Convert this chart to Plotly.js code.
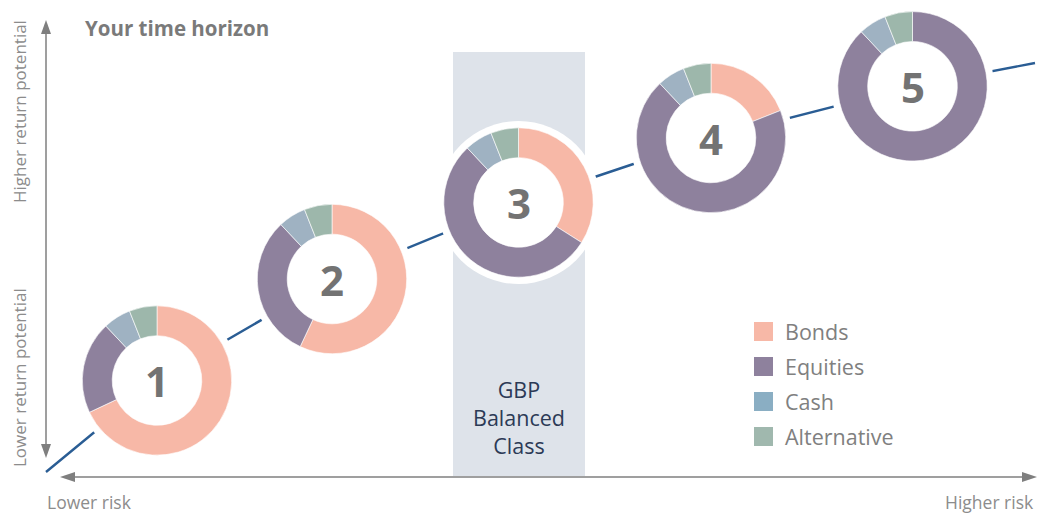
<!DOCTYPE html>
<html>
<head>
<meta charset="utf-8">
<script src="https://cdn.plot.ly/plotly-3.0.1.min.js"></script>
<style>html,body{margin:0;padding:0;background:#fff;}#chart{width:1037px;height:513px;}</style>
</head>
<body>
<div id="chart"></div>
<script>
// ---- data ----
const portfolios = ['1', '2', '3', '4', '5'];
const assetClasses = ['Bonds', 'Equities', 'Cash', 'Alternative'];
const bonds = [68, 57, 34, 19, 0];
const equities = [20, 31, 54, 69, 88];
const cash = [6, 6, 6, 6, 6];
const alternative = [6, 6, 6, 6, 6];
const highlightedLabel = 'GBP<br>Balanced<br>Class';

// ---- layout / style constants ----
const W = 1037, H = 513;
const sliceColors = ['#f7b8a7', '#8e819d', '#9fb2c2', '#9db7ab'];
const legendColors = ['#f7b8a7', '#8e819d', '#8aaec3', '#a0b8ae'];
const centers = [[157, 380.5], [332, 279], [518.5, 202.5], [711, 138], [912.5, 86.3]];
const pathStart = [46, 472], pathEnd = [1035, 63];
const R = 74.7, HOLE = 0.6, RING = 81.5;
const px = x => x / W;
const py = y => 1 - y / H;
const gray = '#7f7f7f';
const FONT = '"Open Sans", Lato, sans-serif';

const series = [bonds, equities, cash, alternative];
const traces = portfolios.map((p, i) => {
  const [cx, cy] = centers[i];
  return {
    type: 'pie',
    labels: assetClasses,
    values: series.map(s => s[i]),
    hole: HOLE,
    sort: false,
    direction: 'clockwise',
    rotation: 0,
    textinfo: 'none',
    hoverinfo: 'label+value',
    showlegend: false,
    marker: {colors: sliceColors, line: {color: '#ffffff', width: 0.6}},
    domain: {x: [px(cx - R), px(cx + R)], y: [py(cy + R), py(cy - R)]}
  };
});

const shapes = [];
// highlighted portfolio band
shapes.push({type: 'rect', xref: 'paper', yref: 'paper', layer: 'below',
  x0: px(453), x1: px(585), y0: py(476), y1: py(52),
  fillcolor: '#dee3ea', line: {width: 0}});
// risk/return path through the portfolios
const pts = [pathStart].concat(centers).concat([pathEnd]);
shapes.push({type: 'path', xref: 'paper', yref: 'paper', layer: 'below',
  path: pts.map((p, k) => (k ? 'L ' : 'M ') + px(p[0]) + ' ' + py(p[1])).join(' '),
  line: {color: '#2a5d94', width: 2.4}});
// white rings behind donuts
centers.forEach(([cx, cy]) => {
  shapes.push({type: 'circle', xref: 'paper', yref: 'paper', layer: 'below',
    x0: px(cx - RING), x1: px(cx + RING), y0: py(cy + RING), y1: py(cy - RING),
    fillcolor: '#ffffff', line: {width: 0}});
});
// axes arrows
shapes.push({type: 'line', xref: 'paper', yref: 'paper', x0: px(46), x1: px(46), y0: py(30), y1: py(447),
  line: {color: gray, width: 1.5}});
shapes.push({type: 'path', xref: 'paper', yref: 'paper', fillcolor: gray, line: {width: 0},
  path: `M ${px(46)} ${py(20)} L ${px(41)} ${py(34)} L ${px(51)} ${py(34)} Z`});
shapes.push({type: 'path', xref: 'paper', yref: 'paper', fillcolor: gray, line: {width: 0},
  path: `M ${px(46)} ${py(458)} L ${px(41)} ${py(444)} L ${px(51)} ${py(444)} Z`});
shapes.push({type: 'line', xref: 'paper', yref: 'paper', x0: px(70), x1: px(1026), y0: py(477), y1: py(477),
  line: {color: gray, width: 1.5}});
shapes.push({type: 'path', xref: 'paper', yref: 'paper', fillcolor: gray, line: {width: 0},
  path: `M ${px(60)} ${py(477)} L ${px(75)} ${py(472)} L ${px(75)} ${py(482)} Z`});
shapes.push({type: 'path', xref: 'paper', yref: 'paper', fillcolor: gray, line: {width: 0},
  path: `M ${px(1037)} ${py(477)} L ${px(1022)} ${py(472)} L ${px(1022)} ${py(482)} Z`});
// legend swatches
assetClasses.forEach((a, k) => {
  const yc = 331.5 + k * 35;
  shapes.push({type: 'rect', xref: 'paper', yref: 'paper',
    x0: px(754), x1: px(773), y0: py(yc + 9.5), y1: py(yc - 9.5),
    fillcolor: legendColors[k], line: {width: 0}});
});

const ann = [];
portfolios.forEach((p, i) => {
  ann.push({text: '<b>' + p + '</b>', x: px(centers[i][0]), y: py(centers[i][1]), xref: 'paper', yref: 'paper',
    showarrow: false, xanchor: 'center', yanchor: 'middle',
    font: {family: FONT, size: 42, color: '#737373'}});
});
assetClasses.forEach((a, k) => {
  ann.push({text: a, x: px(783), y: py(331.5 + k * 35), xref: 'paper', yref: 'paper',
    showarrow: false, xanchor: 'left', yanchor: 'middle',
    font: {family: FONT, size: 21.5, color: '#808080'}});
});
ann.push({text: '<b>Your time horizon</b>', x: px(83), y: py(28), xref: 'paper', yref: 'paper',
  showarrow: false, xanchor: 'left', yanchor: 'middle', font: {family: FONT, size: 20.5, color: '#7a7a7a'}});
ann.push({text: 'Higher return potential', x: px(19), y: py(112), xref: 'paper', yref: 'paper', textangle: -90,
  showarrow: false, xanchor: 'center', yanchor: 'middle', font: {family: FONT, size: 17, color: '#8c8c8c'}});
ann.push({text: 'Lower return potential', x: px(19), y: py(378), xref: 'paper', yref: 'paper', textangle: -90,
  showarrow: false, xanchor: 'center', yanchor: 'middle', font: {family: FONT, size: 17, color: '#8c8c8c'}});
ann.push({text: 'Lower risk', x: px(45), y: py(502), xref: 'paper', yref: 'paper',
  showarrow: false, xanchor: 'left', yanchor: 'middle', font: {family: FONT, size: 17.5, color: '#8c8c8c'}});
ann.push({text: 'Higher risk', x: px(1036), y: py(502), xref: 'paper', yref: 'paper',
  showarrow: false, xanchor: 'right', yanchor: 'middle', font: {family: FONT, size: 17.5, color: '#8c8c8c'}});
ann.push({text: highlightedLabel, x: px(519), y: py(417), xref: 'paper', yref: 'paper',
  showarrow: false, xanchor: 'center', yanchor: 'middle', font: {family: FONT, size: 21.5, color: '#2c3a56'}});

const layout = {
  width: W, height: H,
  margin: {l: 0, r: 0, t: 0, b: 0},
  paper_bgcolor: '#ffffff', plot_bgcolor: '#ffffff',
  showlegend: false,
  shapes: shapes,
  annotations: ann
};

Plotly.newPlot('chart', traces, layout, {displayModeBar: false, staticPlot: true});
</script>
</body>
</html>
